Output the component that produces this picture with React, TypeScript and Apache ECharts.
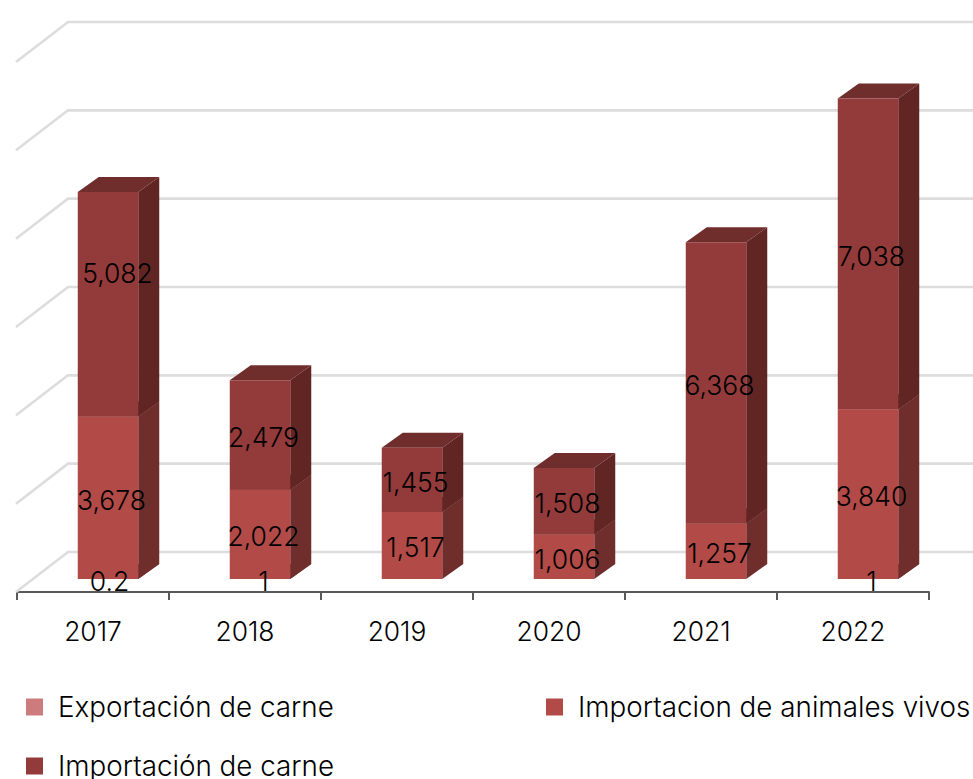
import React, { useEffect, useRef } from "react";
import * as echarts from "echarts";

const years = ["2017", "2018", "2019", "2020", "2021", "2022"];
const exportMeat = [0.2, 1, null, null, null, 1];
const importLive = [3678, 2022, 1517, 1006, 1257, 3840];
const importMeat = [5082, 2479, 1455, 1508, 6368, 7038];
const gridValues = [0, 2000, 4000, 6000, 8000, 10000, 12000];

const nameExport = "Exportación de carne";
const nameLive = "Importacion de animales vivos";
const nameMeat = "Importación de carne";

const FONT = "Inter";
const BAR_W = 60.5;
const BAR_SHIFT = 15;
const BASE_LIFT = 13;
const DX = 21;
const DY = -15;

function fmt(v: number) {
  return v.toLocaleString("en-US", { maximumFractionDigits: 1 });
}

function stacked(values: (number | null)[], below: (number | null)[][]) {
  return values.map((v, i) => {
    const base = below.reduce((s, arr) => s + (arr[i] ?? 0), 0);
    return [i, base, base + (v ?? 0), v ?? 0];
  });
}

function barRenderer(front: string, side: string, top: string, nudges: Record<number, [number, number]>) {
  return (params: any, api: any) => {
    const i = api.value(0);
    const val = api.value(3);
    if (!val) return { type: "group", children: [] };
    const cx = api.coord([i, 0])[0] + BAR_SHIFT;
    const y0 = api.coord([i, api.value(1)])[1] - BASE_LIFT;
    const y1 = api.coord([i, api.value(2)])[1] - BASE_LIFT;
    const l = cx - BAR_W / 2;
    const r = cx + BAR_W / 2;
    const nudge = nudges[i] || [0, 0];
    return {
      type: "group",
      children: [
        { type: "polygon", shape: { points: [[r, y0], [r + DX, y0 + DY], [r + DX, y1 + DY], [r, y1]] }, style: { fill: side } },
        { type: "polygon", shape: { points: [[l, y1], [r, y1], [r + DX, y1 + DY], [l + DX, y1 + DY]] }, style: { fill: top } },
        { type: "rect", shape: { x: l, y: y1, width: BAR_W, height: y0 - y1 }, style: { fill: front } },
        {
          type: "text",
          z2: 100,
          x: cx + 3.5 + nudge[0],
          y: (y0 + y1) / 2 + 2 + nudge[1],
          style: {
            text: fmt(val),
            fontFamily: FONT,
            fontSize: 26.5,
            fontWeight: 300,
            fill: "#000",
            align: "center",
            verticalAlign: "middle",
          },
        },
      ],
    };
  };
}

function gridRenderer(params: any, api: any) {
  const y = api.coord([0, api.value(0)])[1];
  const left = params.coordSys.x;
  const pts = [
    [left - 1, y],
    [left + 51, y - 40],
    [973, y - 40],
  ];
  return {
    type: "polyline",
    shape: { points: pts },
    style: { stroke: "#DDDDDD", lineWidth: 2.6, fill: "none" },
  };
}

const legendBase = {
  icon: "rect",
  itemWidth: 17,
  itemHeight: 17,
  selectedMode: false,
  orient: "horizontal",
  textStyle: { fontFamily: FONT, fontWeight: 300, fontSize: 27.8, color: "#000", padding: [0, 0, 0, 10] },
};

export default function App() {
  const ref = useRef<HTMLDivElement>(null);
  useEffect(() => {
    const chart = echarts.init(ref.current!, null, { renderer: "svg" });
    chart.setOption({
      animation: false,
      backgroundColor: "#fff",
      grid: { left: 17, right: 44, top: 62, bottom: 187 },
      xAxis: {
        type: "category",
        data: years,
        axisLine: { show: true, lineStyle: { color: "#595959", width: 2 } },
        axisTick: { show: true, length: 8, lineStyle: { color: "#595959", width: 2 } },
        axisLabel: { fontFamily: FONT, fontWeight: 300, fontSize: 26.4, color: "#000", margin: 26 },
      },
      yAxis: { type: "value", min: 0, max: 12000, interval: 2000, show: false },
      legend: [
        { ...legendBase, left: 21, top: 688, data: [nameExport] },
        { ...legendBase, left: 541, top: 688, data: [nameLive] },
        { ...legendBase, left: 21, top: 747, data: [nameMeat] },
      ],
      series: [
        {
          type: "custom",
          name: "grid",
          z: 1,
          silent: true,
          data: gridValues.map((v) => [v]),
          encode: { y: 0 },
          renderItem: gridRenderer,
        },
        {
          type: "custom",
          name: nameExport,
          z: 3,
          itemStyle: { color: "#CC7C7C" },
          encode: { x: 0, y: [1, 2] },
          data: stacked(exportMeat, []),
          renderItem: barRenderer("#CC7C7C", "#7A3D3D", "#8A4A4A", { 0: [-2, 0] }),
        },
        {
          type: "custom",
          name: nameLive,
          z: 3,
          itemStyle: { color: "#B24A47" },
          encode: { x: 0, y: [1, 2] },
          data: stacked(importLive, [exportMeat]),
          renderItem: barRenderer("#B24A47", "#6F2E2B", "#6F2E2B", {}),
        },
        {
          type: "custom",
          name: nameMeat,
          z: 3,
          itemStyle: { color: "#933A3A" },
          encode: { x: 0, y: [1, 2] },
          data: stacked(importMeat, [exportMeat, importLive]),
          renderItem: barRenderer("#933A3A", "#612523", "#6F2D2B", { 0: [6, -33] }),
        },
      ],
    });
    return () => chart.dispose();
  }, []);
  return <div ref={ref} style={{ position: "fixed", left: 0, top: 0, width: 973, height: 779 }} />;
}
